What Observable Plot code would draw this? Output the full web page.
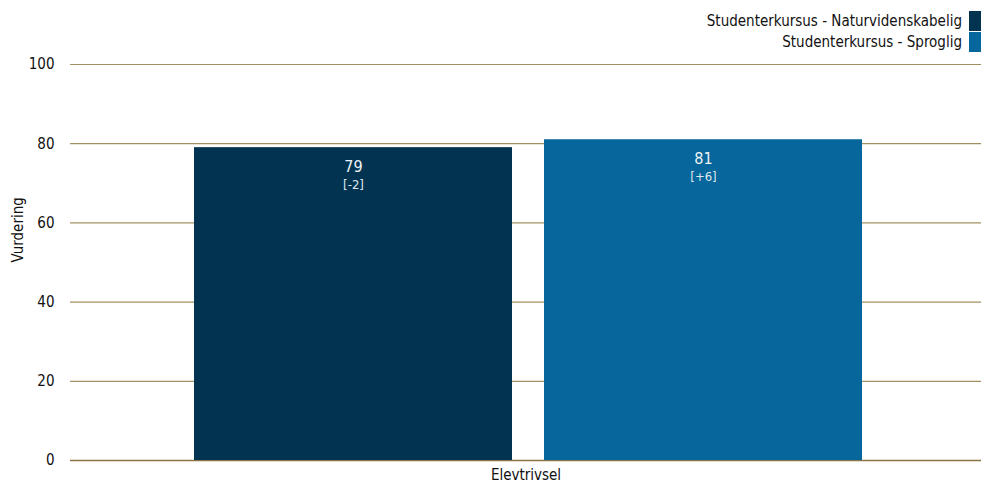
<!DOCTYPE html>
<html>
<head>
<meta charset="utf-8">
<script src="https://cdn.jsdelivr.net/npm/d3@7"></script>
<script src="https://cdn.jsdelivr.net/npm/@observablehq/plot@0.6"></script>
<style>
  html, body { margin: 0; padding: 0; background: #fff; }
  body { width: 981px; height: 483px; overflow: hidden; font-family: Tahoma, "DejaVu Sans Condensed", "DejaVu Sans", sans-serif; }
  #legend { height: 56px; position: relative; }
  .item { position: absolute; right: 0; display: flex; align-items: center; font-size: 15px; color: #111; }
  .item span.sw { display: inline-block; width: 12px; height: 20px; margin-left: 7px; }
</style>
</head>
<body>
<div id="legend"></div>
<div id="chart"></div>
<script>
const categories = ["Elevtrivsel"];
const series = ["Studenterkursus - Naturvidenskabelig", "Studenterkursus - Sproglig"];
const values = [79, 81];
const changes = ["[-2]", "[+6]"];
const colors = ["#023451", "#07669b"];
const yTicks = [0, 20, 40, 60, 80, 100];
const yLabel = "Vurdering";

const data = series.map((s, i) => ({category: categories[0], series: s, value: values[i], change: changes[i]}));

// legend
const legend = document.getElementById("legend");
series.forEach((s, i) => {
  const div = document.createElement("div");
  div.className = "item";
  div.style.top = (11 + i * 21) + "px";
  div.innerHTML = `<span>${s}</span><span class="sw" style="background:${colors[i]}"></span>`;
  legend.appendChild(div);
});

const font = 'Tahoma, "DejaVu Sans Condensed", "DejaVu Sans", sans-serif';
const chart = Plot.plot({
  width: 981,
  height: 427,
  marginLeft: 70,
  marginRight: 0,
  marginTop: 8,
  marginBottom: 23,
  style: {fontFamily: font, fontSize: "15px", color: "#111", background: "#fff"},
  fx: {domain: categories, padding: 0, label: null, axis: "bottom", tickSize: 0, tickPadding: 9},
  x: {domain: series, paddingInner: 0.0914, paddingOuter: 0.347, align: 0.51, axis: null},
  y: {domain: [0, 100], ticks: yTicks, label: null, tickSize: 0, tickPadding: 16},
  color: {domain: series, range: colors},
  marks: [
    Plot.ruleY(yTicks.filter(d => d > 0), {stroke: "#a39062", strokeWidth: 1.2}),
    Plot.ruleY([0], {stroke: "#8c7544", strokeWidth: 1.5}),
    Plot.barY(data, {fx: "category", x: "series", y: "value", fill: "series"}),
    Plot.text(data, {fx: "category", x: "series", y: "value", text: d => String(d.value), dy: 19, fill: "#eef3f7", fontSize: 16}),
    Plot.text(data, {fx: "category", x: "series", y: "value", text: "change", dy: 37, fill: "#dfe8ef", fontSize: 13}),
    Plot.text([yLabel], {frameAnchor: "left", text: d => d, rotate: -90, dx: -52, fontSize: 15, fill: "#111"})
  ]
});
document.getElementById("chart").appendChild(chart);
</script>
</body>
</html>
